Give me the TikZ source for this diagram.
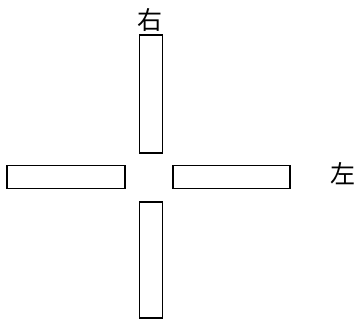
\documentclass[tikz,border=0pt]{standalone}
\usepackage{fontspec}
\newfontfamily\cjk{Noto Sans CJK SC}
\begin{document}
\begin{tikzpicture}[x=1pt,y=-1pt,
  bar/.style={draw=black,line width=1.4pt,fill=white},
  lbl/.style={font=\cjk\fontsize{25}{25}\selectfont,inner sep=0pt}]
\useasboundingbox (0,0) rectangle (361,320);
\node[bar,minimum width=23pt,minimum height=118pt,inner sep=0pt] (top) at (151,94) {};
\node[bar,minimum width=23pt,minimum height=116pt,inner sep=0pt] (bottom) at (151,260) {};
\node[bar,minimum width=118pt,minimum height=23pt,inner sep=0pt] (left) at (66,177) {};
\node[bar,minimum width=117pt,minimum height=23pt,inner sep=0pt] (right) at (231.5,177) {};
\node[lbl] (r) at (150,20) {右};
\node[lbl] (l) at (343,174) {左};
\end{tikzpicture}
\end{document}
